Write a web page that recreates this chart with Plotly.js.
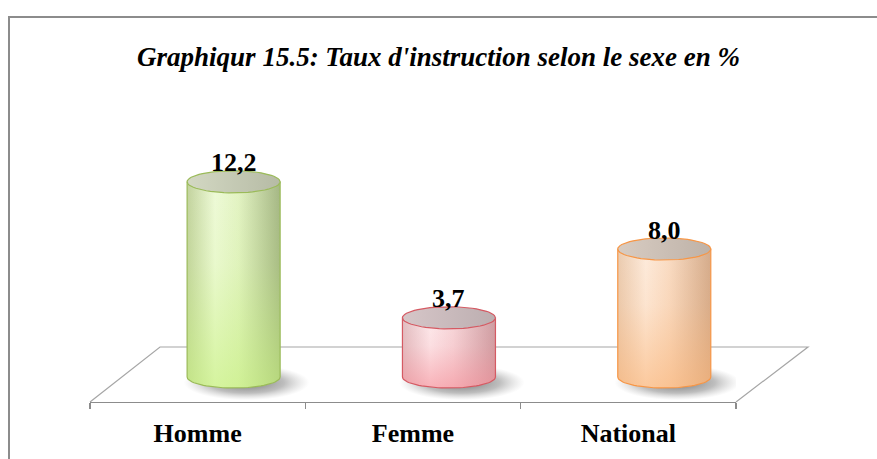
<!DOCTYPE html>
<html>
<head>
<meta charset="utf-8">
<script src="https://cdn.plot.ly/plotly-3.0.1.min.js"></script>
<style>
  html, body { margin: 0; padding: 0; background: #ffffff; }
  #chart { width: 877px; height: 459px; }
</style>
</head>
<body>
<div id="chart"></div>
<script>
// ---- data ----
const categories = ['Homme', 'Femme', 'National'];
const values = [12.2, 3.7, 8.0];
const titleText = "Graphiqur 15.5: Taux d'instruction selon le sexe en %";

// ---- styles ----
const outlineColors = ['#9bbb59', '#d55a63', '#f79646'];
const bodyScales = [
  [[0, '#c2d29e'], [0.3, '#eefad8'], [0.55, '#e3f3c4'], [1, '#a5b685']],
  [[0, '#e1bec1'], [0.3, '#fdeaec'], [0.55, '#f6d6d9'], [1, '#cd9ea2']],
  [[0, '#eacbb0'], [0.3, '#fdebdc'], [0.55, '#f9dcc4'], [1, '#d4ab8b']]
];
const bottomTints = ['rgba(196,240,120,', 'rgba(245,140,150,', 'rgba(250,178,115,'];
const topScales = [
  [[0, '#d3d8c3'], [1, '#b6bba5']],
  [[0, '#d6c6c8'], [1, '#bcaeb0']],
  [[0, '#d8ccc2'], [1, '#beb2a8']]
];

const RX = 0.216;   // cylinder half width (x units)
const RY = 0.69;    // ellipse half height (y units)

function arc(cx, cy, rx, ry, t0, t1, n) {
  const xs = [], ys = [];
  for (let k = 0; k <= n; k++) {
    const t = t0 + (t1 - t0) * k / n;
    xs.push(cx + rx * Math.cos(t));
    ys.push(cy + ry * Math.sin(t));
  }
  return [xs, ys];
}

const traces = [];

// invisible trace giving the front (category) axis its categories
traces.push({
  type: 'scatter', mode: 'markers', x: categories, y: values,
  xaxis: 'x', yaxis: 'y', marker: {opacity: 0}, hoverinfo: 'skip', showlegend: false
});

values.forEach((v, i) => {
  const cx = i;
  // shadow
  const sh = arc(cx + 0.06, -0.35, RX * 1.35, RY * 1.6, 0, 2 * Math.PI, 60);
  traces.push({
    type: 'scatter', mode: 'lines', x: sh[0], y: sh[1], xaxis: 'x2', yaxis: 'y',
    fill: 'toself', line: {width: 0, color: 'rgba(0,0,0,0)'},
    fillgradient: {type: 'radial', colorscale: [[0, 'rgba(70,70,70,0.75)'], [0.6, 'rgba(110,110,110,0.45)'], [1, 'rgba(160,160,160,0)']]},
    hoverinfo: 'skip', showlegend: false
  });
  // body
  const bot = arc(cx, 0, RX, RY, 2 * Math.PI, Math.PI, 40);
  const bx = [cx - RX, cx + RX].concat(bot[0]);
  const by = [v, v].concat(bot[1]);
  bx.push(cx - RX); by.push(v);
  traces.push({
    type: 'scatter', mode: 'lines', x: bx, y: by, xaxis: 'x2', yaxis: 'y',
    fill: 'toself', line: {width: 0, color: 'rgba(0,0,0,0)'},
    fillgradient: {type: 'horizontal', colorscale: bodyScales[i]},
    hoverinfo: 'skip', showlegend: false
  });
  // vertical tint towards the bottom
  traces.push({
    type: 'scatter', mode: 'lines', x: bx, y: by, xaxis: 'x2', yaxis: 'y',
    fill: 'toself', line: {width: 1.2, color: outlineColors[i]},
    fillgradient: {type: 'vertical', colorscale: [[0, bottomTints[i] + '0.6)'], [0.6, bottomTints[i] + '0.12)'], [1, bottomTints[i] + '0)']]},
    hoverinfo: 'skip', showlegend: false
  });
  // top ellipse
  const tp = arc(cx, v, RX, RY, 0, 2 * Math.PI, 60);
  traces.push({
    type: 'scatter', mode: 'lines', x: tp[0], y: tp[1], xaxis: 'x2', yaxis: 'y',
    fill: 'toself', line: {width: 1.2, color: outlineColors[i]},
    fillgradient: {type: 'horizontal', colorscale: topScales[i]},
    hoverinfo: 'skip', showlegend: false
  });
});

const annotations = values.map((v, i) => ({
  x: i, y: v, xref: 'x2', yref: 'y', yshift: 19,
  text: '<b>' + v.toFixed(1).replace('.', ',') + '</b>', showarrow: false,
  xanchor: 'center', yanchor: 'middle',
  font: {family: 'Liberation Serif, Times New Roman, serif', size: 26, color: '#000000'}
}));

// plot area in pixels (for decoration shapes in paper coordinates)
const L = 90, PW = 718, T = 90, PH = 312, B = 402;
const px = x => (x - L) / PW;
const py = y => (B - y) / PH;
const floorPath = 'M ' + px(90) + ',' + py(402) + ' L ' + px(160) + ',' + py(347) +
  ' L ' + px(808) + ',' + py(347) + ' L ' + px(736) + ',' + py(402);

const shapes = [
  {type: 'path', xref: 'paper', yref: 'paper', path: floorPath, line: {color: '#a6a6a6', width: 1.2}, layer: 'below'},
  // outer border (top and left visible)
  {type: 'path', xref: 'paper', yref: 'paper',
   path: 'M ' + px(9) + ',' + py(470) + ' L ' + px(9) + ',' + py(17) + ' L ' + px(900) + ',' + py(17),
   line: {color: '#8c8c8c', width: 2}}
];

const layout = {
  width: 877, height: 459,
  margin: {l: 90, r: 69, t: 90, b: 57},
  paper_bgcolor: '#ffffff', plot_bgcolor: 'rgba(0,0,0,0)',
  showlegend: false,
  title: {
    text: '<b><i>' + titleText + '</i></b>',
    x: 0.5, xref: 'container', y: 1 - 57 / 459, yref: 'container', yanchor: 'middle',
    font: {family: 'Liberation Serif, Times New Roman, serif', size: 27, color: '#000000'}
  },
  xaxis: {
    type: 'category', domain: [0, 0.8997], range: [-0.5, 2.5], fixedrange: true,
    showgrid: false, zeroline: false, showline: true, linecolor: '#8c8c8c', linewidth: 1.2,
    ticks: 'outside', tickson: 'boundaries', ticklen: 6, tickcolor: '#8c8c8c', tickwidth: 1.2,
    ticklabelstandoff: 8,
    tickfont: {family: 'Liberation Serif, Times New Roman, serif', size: 26, color: '#000000', weight: 'bold'}
  },
  xaxis2: {
    type: 'linear', range: [-0.667, 2.333], anchor: 'y', overlaying: 'x',
    visible: false, fixedrange: true
  },
  yaxis: {
    range: [-1.5625, -1.5625 + 312 / 16], visible: false, fixedrange: true, zeroline: false, showgrid: false
  },
  annotations: annotations,
  shapes: shapes
};

Plotly.newPlot('chart', traces, layout, {displayModeBar: false, staticPlot: true});
</script>
</body>
</html>
